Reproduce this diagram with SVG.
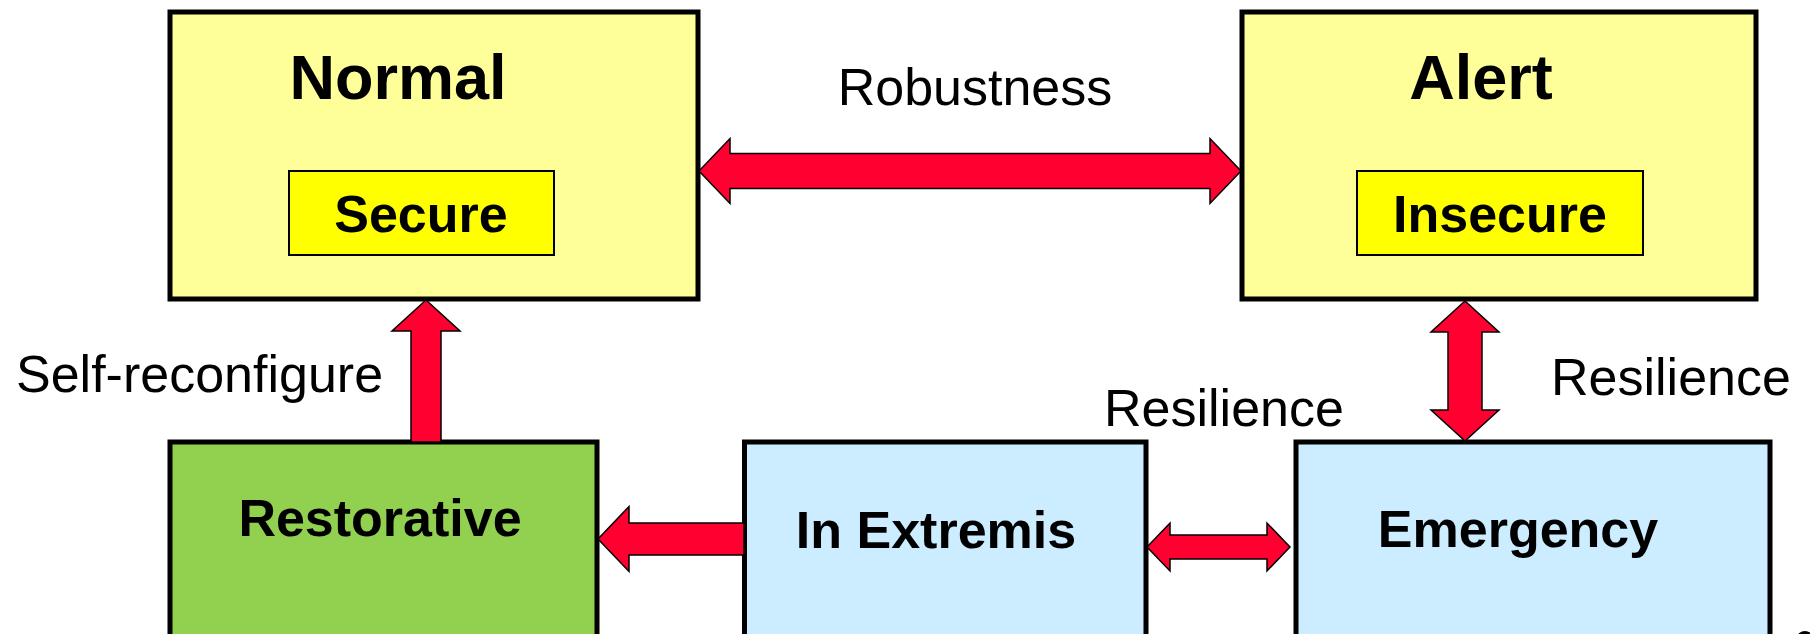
<svg xmlns="http://www.w3.org/2000/svg" width="1810" height="634" viewBox="0 0 1810 634">
<style>
text{font-family:"Liberation Sans",Arial,sans-serif;fill:#000}
.title{font-size:63px;font-weight:bold;text-anchor:middle}
.lbl{font-size:52px;font-weight:bold;text-anchor:middle}
.edge{font-size:52px}
.box{stroke:#000;stroke-width:5}
.inner{fill:#FFFF00;stroke:#000;stroke-width:2}
.arrow{fill:#FF0030;stroke:#000;stroke-width:1.5;stroke-linejoin:miter}
</style>
<rect width="1810" height="634" fill="#fff"/>
<g id="normal">
<rect class="box" x="170" y="12" width="528" height="287" fill="#FFFF99"/>
<text class="title" x="398" y="99">Normal</text>
<rect class="inner" x="289" y="171" width="265" height="84"/>
<text class="lbl" x="421" y="232">Secure</text>
</g>
<g id="alert">
<rect class="box" x="1242" y="12" width="514" height="287" fill="#FFFF99"/>
<text class="title" x="1481" y="99">Alert</text>
<rect class="inner" x="1357" y="171" width="286" height="84"/>
<text class="lbl" x="1500" y="232">Insecure</text>
</g>
<g id="restorative">
<rect class="box" x="170" y="442" width="427" height="260" fill="#92D050"/>
<text class="lbl" x="380" y="536">Restorative</text>
</g>
<g id="inextremis">
<rect class="box" x="744.5" y="442" width="401.5" height="260" fill="#CCECFF"/>
<text class="lbl" x="936" y="548">In Extremis</text>
</g>
<g id="emergency">
<rect class="box" x="1296" y="442" width="474" height="260" fill="#CCECFF"/>
<text class="lbl" x="1518" y="547">Emergency</text>
</g>
<g id="connectors">
<polygon class="arrow" points="699,171 730,138.5 730,153.5 1210,153.5 1210,138.5 1241,171 1210,203.5 1210,188.5 730,188.5 730,203.5"/>
<polygon class="arrow" points="1465,301 1499,332 1482,332 1482,410 1499,410 1465,441 1431,410 1448,410 1448,332 1431,332"/>
<polygon class="arrow" points="426,300 460,331 441,331 441,442 411,442 411,331 392,331"/>
<polygon class="arrow" points="598,539 629,506.5 629,523 744,523 744,555 629,555 629,571.5"/>
<polygon class="arrow" points="1147,547 1170,523 1170,535 1267,535 1267,523 1290,547 1267,571 1267,559 1170,559 1170,571"/>
<text class="edge" x="975" y="105" text-anchor="middle">Robustness</text>
<text class="edge" x="16" y="392">Self-reconfigure</text>
<text class="edge" x="1104" y="426">Resilience</text>
<text class="edge" x="1551" y="395">Resilience</text>
</g>
<ellipse cx="1805" cy="638" rx="8" ry="7" fill="#000"/>
</svg>
